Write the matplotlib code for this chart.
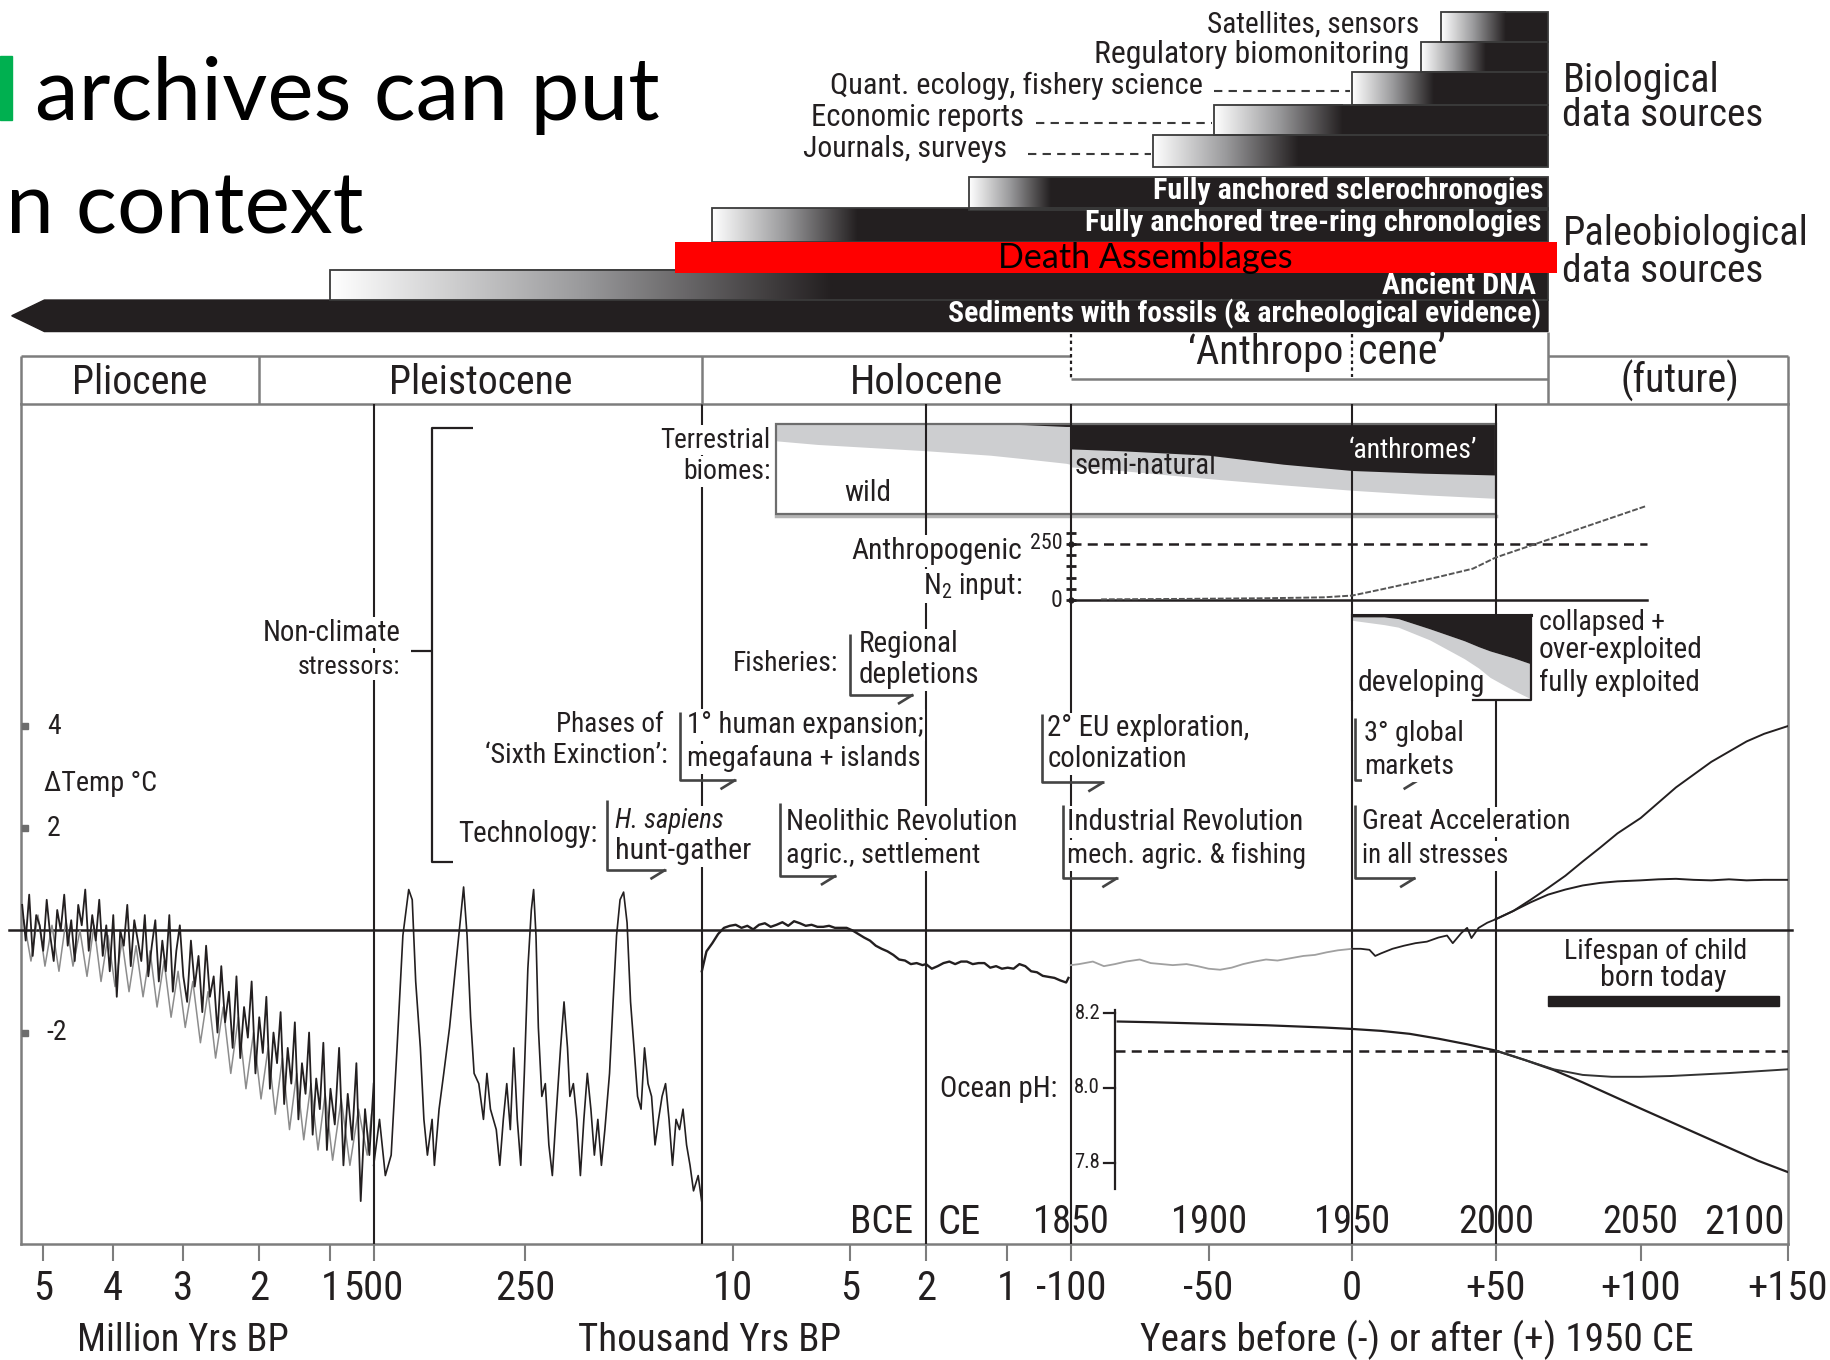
import numpy as np
import matplotlib
matplotlib.use("Agg")
import matplotlib.pyplot as plt
from matplotlib import font_manager, transforms
from matplotlib.patches import Rectangle, Polygon
from matplotlib.colors import LinearSegmentedColormap

# ============================ DATA ============================
# Data-source archives (start of record; all run to the present)
BIO_SOURCES = ["Satellites, sensors", "Regulatory biomonitoring",
               "Quant. ecology, fishery science", "Economic reports", "Journals, surveys"]
BIO_START_CE = [1981, 1974, 1950, 1902, 1880]
PALEO_SOURCES = ["Fully anchored sclerochronogies", "Fully anchored tree-ring chronologies",
                 "Ancient DNA", "Sediments with fossils (& archeological evidence)"]
PALEO_START_BP = [1464, 11130, 1.0e6, 5.45e6]          # years before 1950
DEATH_LABEL = "Death Assemblages"
DEATH_START_BP = 47900
DEATH_END_CE = 2021
SOURCES_END_CE = 2018

EPOCHS = ["Pliocene", "Pleistocene", "Holocene", "(future)"]
PLIO_PLEIST_BP = 2.0e6
HOLOCENE_BP = 11700
EPOCH_LINES_T = [-5.0e5, -11700, -2000, -100, 0, 50]   # years rel. 1950

TICK_T = [-5e6, -4e6, -3e6, -2e6, -1e6, -5e5, -2.5e5, -1e4, -5e3, -2e3, -1e3,
          -100, -50, 0, 50, 100, 150]
TICK_LBL = ['5', '4', '3', '2', '1', '500', '250', '10', '5', '2', '1',
            '-100', '-50', '0', '+50', '+100', '+150']
YEAR_LBL = ['1850', '1900', '1950', '2000', '2050']
YEAR_LBL_CE = [1850, 1900, 1950, 2000, 2050]

# Temperature anomaly (deg C)
PLIO_MA = [-5.30, -5.25, -5.20, -5.15, -5.10, -5.05, -5.00, -4.95, -4.90, -4.85, -4.80, -4.75,
           -4.70, -4.65, -4.60, -4.55, -4.50, -4.45, -4.40, -4.35, -4.30, -4.25, -4.20, -4.15,
           -4.10, -4.05, -4.00, -3.95, -3.90, -3.85, -3.80, -3.75, -3.70, -3.65, -3.60, -3.55,
           -3.50, -3.45, -3.40, -3.35, -3.30, -3.25, -3.20, -3.15, -3.10, -3.05, -3.00, -2.95,
           -2.90, -2.85, -2.80, -2.75, -2.70, -2.65, -2.60, -2.55, -2.50, -2.45, -2.40, -2.35,
           -2.30, -2.25, -2.20, -2.15, -2.10, -2.05, -2.00, -1.95, -1.90, -1.85, -1.80, -1.75,
           -1.70, -1.65, -1.60, -1.55, -1.50, -1.45, -1.40, -1.35, -1.30, -1.25, -1.20, -1.15,
           -1.10, -1.05, -1.00, -0.95, -0.90, -0.85, -0.80, -0.75, -0.70, -0.65, -0.60, -0.55, -0.50]
PLIO_TEMP = [0.5, -0.2, 0.7, -0.5, 0.3, 0.1, -0.4, 0.6, -0.1, -0.6, 0.4, 0.0,
             0.7, -0.3, 0.2, -0.6, 0.5, 0.1, 0.8, -0.4, 0.3, -0.2, 0.6, -0.5,
             0.1, -0.8, 0.3, -1.3, 0.0, -0.3, 0.5, -0.7, 0.2, -0.2, -0.6, 0.3,
             -0.9, -0.3, 0.2, -1.0, -0.2, -0.8, 0.3, -1.2, -0.4, 0.1, -0.9, -1.4,
             -0.2, -1.1, -0.5, -1.6, -0.3, -1.3, -0.9, -2.0, -0.7, -1.8, -1.2, -2.3,
             -0.9, -2.5, -1.5, -2.1, -1.0, -2.8, -1.7, -2.4, -1.3, -3.1, -2.0, -2.6,
             -1.6, -3.4, -2.3, -3.0, -1.8, -3.7, -2.6, -3.2, -2.0, -4.0, -2.9, -3.5,
             -2.2, -4.3, -3.1, -3.8, -2.3, -4.6, -3.2, -4.1, -2.6, -5.3, -3.5, -4.4, -3.0]
PLIO2_MA = [-5.275, -5.175, -5.075, -4.975, -4.875, -4.775, -4.675, -4.575, -4.475, -4.375,
            -4.275, -4.175, -4.075, -3.975, -3.875, -3.775, -3.675, -3.575, -3.475, -3.375,
            -3.275, -3.175, -3.075, -2.975, -2.875, -2.775, -2.675, -2.575, -2.475, -2.375,
            -2.275, -2.175, -2.075, -1.975, -1.875, -1.775, -1.675, -1.575, -1.475, -1.375,
            -1.275, -1.175, -1.075, -0.975, -0.875, -0.775, -0.675, -0.575, -0.525]
PLIO2_TEMP = [0.2, -0.6, 0.3, -0.7, 0.1, -0.8, 0.2, -0.7, 0.0, -0.9,
              0.1, -1.0, -0.1, -1.1, -0.2, -1.2, -0.3, -1.3, -0.4, -1.5,
              -0.6, -1.7, -0.8, -1.9, -1.0, -2.2, -1.2, -2.5, -1.5, -2.8,
              -1.7, -3.1, -2.0, -3.3, -2.3, -3.6, -2.5, -3.9, -2.8, -4.1,
              -3.0, -4.3, -3.2, -4.5, -3.3, -4.6, -3.5, -4.4, -3.6]
GLAC_KA = [500.0, 490.4, 480.8, 471.2, 461.5, 451.9, 442.3, 436.5, 430.8, 423.1, 417.3, 411.5,
           403.8, 400.0, 392.3, 384.6, 375.0, 365.4, 357.7, 351.9, 346.2, 340.4, 334.6, 326.9,
           319.2, 313.5, 307.7, 298.1, 292.3, 286.5, 280.8, 275.0, 269.2, 263.5, 257.7, 251.9,
           246.8, 242.1, 239.0, 235.8, 232.6, 227.9, 223.2, 218.4, 213.7, 209.0, 202.6, 197.9,
           193.2, 190.0, 185.3, 180.6, 175.8, 171.1, 166.4, 161.6, 156.9, 152.2, 147.4, 142.7,
           136.4, 131.6, 126.9, 122.2, 117.4, 112.7, 108.0, 103.3, 98.5, 93.8, 89.1, 84.4,
           79.6, 74.9, 70.2, 65.4, 60.7, 56.0, 51.3, 46.5, 41.8, 37.1, 32.3, 27.6, 22.9, 16.6, 11.9]
GLAC_TEMP = [-4.6, -3.7, -4.8, -4.4, -2.3, -0.1, 0.8, 0.6, -1.0, -2.3, -3.7, -4.4,
             -3.7, -4.6, -3.5, -2.8, -1.9, -0.75, 0.15, 0.85, -0.1, -1.7, -2.8, -3.0,
             -3.7, -2.8, -3.5, -3.9, -4.6, -3.7, -3.0, -3.9, -2.3, -3.7, -4.6, -2.8,
             -0.75, 0.4, 0.8, -0.1, -1.9, -3.25, -3.0, -4.2, -4.8, -3.7, -2.3, -1.4,
             -2.3, -3.25, -3.0, -3.7, -4.8, -3.7, -2.8, -3.5, -4.4, -3.7, -4.6, -3.9,
             -2.8, -1.4, -0.1, 0.6, 0.75, 0.15, -1.4, -2.3, -3.25, -3.5, -2.3, -3.0,
             -3.25, -4.2, -3.7, -3.25, -3.0, -3.7, -4.6, -3.7, -3.9, -3.5, -4.2, -4.6, -5.1, -4.8, -5.3]
HOLO_BP = [11700, 11448, 11133, 10819, 10504, 10189, 9900, 9650, 9400, 9150, 8900, 8650, 8400,
           8150, 7900, 7650, 7400, 7150, 6900, 6650, 6400, 6150, 5900, 5650, 5400, 5150, 4908,
           4677, 4446, 4215, 3985, 3754, 3523, 3292, 3062, 2831, 2600, 2369, 2138, 2000, 1928,
           1855, 1783, 1710, 1638, 1565, 1493, 1420, 1348, 1275, 1203, 1130, 1058, 984, 902,
           820, 738, 656, 574, 493, 411, 329, 247, 165, 133]
HOLO_TEMP = [-0.80, -0.41, -0.25, -0.07, 0.05, 0.09, 0.11, 0.05, 0.09, 0.02, 0.11, 0.14, 0.07,
             0.11, 0.16, 0.09, 0.18, 0.14, 0.09, 0.11, 0.07, 0.07, 0.09, 0.05, 0.05, 0.05, 0.0,
             -0.07, -0.14, -0.20, -0.30, -0.36, -0.41, -0.48, -0.57, -0.59, -0.66, -0.64, -0.68, -0.66, -0.75,
             -0.70, -0.64, -0.61, -0.66, -0.61, -0.61, -0.66, -0.64, -0.64, -0.73, -0.70, -0.75, -0.73, -0.75,
             -0.66, -0.70, -0.80, -0.82, -0.89, -0.91, -0.93, -0.98, -1.02, -0.93]
INSTR1_CE = [1850, 1853, 1858, 1862, 1866, 1870, 1875, 1879, 1883, 1887, 1892, 1896, 1900,
             1904, 1908, 1912, 1916, 1920, 1924, 1928, 1933, 1937, 1941, 1945, 1950]
INSTR1_TEMP = [-0.68, -0.66, -0.61, -0.70, -0.66, -0.61, -0.57, -0.64, -0.66, -0.68, -0.66, -0.70,
               -0.75, -0.77, -0.73, -0.66, -0.61, -0.57, -0.59, -0.55, -0.50, -0.48, -0.43, -0.39, -0.36]
INSTR2_CE = [1950, 1953, 1956, 1958, 1960, 1964, 1968, 1972, 1976, 1980, 1983, 1985, 1988,
             1990, 1991.5, 1994, 1997, 2000]
INSTR2_TEMP = [-0.36, -0.36, -0.38, -0.50, -0.45, -0.36, -0.30, -0.25, -0.22, -0.14, -0.10,
               -0.25, -0.05, 0.05, -0.15, 0.05, 0.15, 0.22]
PROJ_CE = [2000, 2006, 2012, 2018, 2024, 2030, 2036, 2042, 2050, 2056, 2062, 2068, 2074,
           2080, 2086, 2092, 2100]
PROJ_HIGH = [0.22, 0.38, 0.60, 0.83, 1.07, 1.35, 1.62, 1.90, 2.20, 2.50, 2.80, 3.05, 3.30,
             3.50, 3.70, 3.85, 4.00]
PROJ_LOW = [0.22, 0.38, 0.55, 0.70, 0.80, 0.88, 0.93, 0.96, 0.98, 1.00, 1.01, 0.99, 0.98,
            1.00, 0.98, 0.99, 0.99]

# Terrestrial biomes (fraction of ice-free land)
BIOME_T = [-8160, -6400, -2000, -1200, -740, -165, -110, -100, -82, -50, -24, 0, 25, 50]
ANTHROMES = [0.0, 0.0, 0.0, 0.0, 0.01, 0.03, 0.03, 0.28, 0.30, 0.35, 0.45, 0.52, 0.55, 0.57]
SEMI_NATURAL = [0.19, 0.23, 0.30, 0.35, 0.38, 0.41, 0.42, 0.20, 0.22, 0.26, 0.23, 0.22, 0.24, 0.26]

# Anthropogenic N input (Tg N / yr)
N_CE = [1861, 1890, 1920, 1940, 1950, 1960, 1970, 1980, 1992, 2000, 2010, 2020, 2030, 2040, 2052]
N_INPUT = [3, 5, 8, 12, 20, 47, 75, 103, 140, 190, 234, 278, 323, 367, 420]
N_TICKS = [0, 50, 100, 150, 200, 250, 300]

# Fisheries stock status (fraction of stocks)
FISH_CE = [1950, 1961, 1966, 1977, 1989, 1994, 1998, 2006, 2012]
COLLAPSED = [0.02, 0.02, 0.04, 0.16, 0.30, 0.37, 0.42, 0.50, 0.57]
FULLY_EXPL = [0.04, 0.09, 0.10, 0.13, 0.21, 0.25, 0.31, 0.38, 0.41]

# Ocean pH
PH_CE = [1867, 1880, 1900, 1920, 1940, 1950, 1960, 1970, 1980, 1990, 2000]
PH_HIST = [8.178, 8.176, 8.172, 8.168, 8.162, 8.158, 8.153, 8.145, 8.132, 8.117, 8.100]
PH_PROJ_CE = [2000, 2010, 2020, 2030, 2040, 2050, 2060, 2070, 2080, 2090, 2100]
PH_HIGH = [8.100, 8.075, 8.048, 8.015, 7.980, 7.945, 7.910, 7.875, 7.840, 7.805, 7.775]
PH_LOW = [8.100, 8.075, 8.050, 8.035, 8.030, 8.030, 8.032, 8.036, 8.040, 8.045, 8.050]
PH_TICKS = [8.2, 8.0, 7.8]
PH_REF = 8.1
N_REF = 250
LIFESPAN_CE = (2018, 2097)

# ============================ LAYOUT ============================
W, H = 1568.0, 1165.0                  # layout units (reference pixels)
PXS = 1831.0 / W
FL, FR, FT, FB = 18, 1531, 346, 1066   # plot frame
# piecewise time axis (years rel. 1950 -> layout x)
AXIS_T = np.array([-5.617e6, -5e6, -4e6, -3e6, -2e6, -1e6, -5e5, -2.5e5, -1.17e4, -1e4, -5e3,
                   -2e3, -1e3, -100, -50, 0, 50, 100, 150, 164.8])
AXIS_P = np.array([0, 37, 97, 157, 222, 283, 320, 450, 601, 628, 728,
                   793, 862, 917, 1035, 1158, 1281, 1405, 1531, 1568], dtype=float)


def fwd(t):
    return np.interp(t, AXIS_T, AXIS_P)


def inv(p):
    return np.interp(p, AXIS_P, AXIS_T)


INK = '#231f20'
FRAMEC = '#7d7d7d'
GRAYF = '#cdced0'

avail = {f.name for f in font_manager.fontManager.ttflist}


def pick(cands):
    for c in cands:
        if c in avail:
            return c
    return 'DejaVu Sans'


NARROW = pick(['Liberation Sans Narrow', 'Roboto Condensed', 'Open Sans Condensed',
               'Roboto', 'Liberation Sans'])
TITLEF = pick(['Lato', 'Open Sans'])
plt.rcParams['mathtext.fontset'] = 'custom'
plt.rcParams['mathtext.rm'] = NARROW
plt.rcParams['mathtext.it'] = NARROW + ':italic'

fig = plt.figure(figsize=(18.31, 13.60), dpi=100)
RENDERER = fig.canvas.get_renderer()
FRAME_RECT = [FL / W, 1 - FB / H, (FR - FL) / W, (FB - FT) / H]

ax_t = fig.add_axes(FRAME_RECT)
ax_t.set_xscale('function', functions=(fwd, inv))
ax_t.set_xlim(inv(FL), inv(FR))
ax_t.set_ylim(0, 1)
ax_t.set_yticks([])


def data_ax(v1, p1, v2, p2):
    ax = fig.add_axes(FRAME_RECT, sharex=ax_t)
    s = (p2 - p1) / (v2 - v1)
    ax.set_ylim(v1 + (FB - p1) / s, v1 + (FT - p1) / s)
    ax.set_axis_off()
    ax.patch.set_visible(False)
    return ax


ax_bio = data_ax(0, 363, 1, 440)
ax_px = fig.add_axes([0, 0, 1, 1])
ax_px.set_xlim(0, W)
ax_px.set_ylim(H, 0)
ax_px.set_axis_off()
ax_px.patch.set_visible(False)
ax_fish = data_ax(0, 527, 1, 600)
ax_n = data_ax(0, 514, 250, 466)
ax_ph = data_ax(8.2, 868, 7.8, 996)
ax_temp = data_ax(0, 797, 4, 622)

BT = transforms.blended_transform_factory(ax_t.transData, ax_px.transData)


def tx(t):
    d = ax_t.transData.transform((t, 0.5))
    return ax_px.transData.inverted().transform(d)[0]


def fitted(txt, width):
    if width:
        bb = txt.get_window_extent(RENDERER)
        txt.set_fontsize(txt.get_fontsize() * width * PXS / bb.width)
    return txt


def T(x, y, s, w=None, ha='left', va='center', size=20, color=INK, bbox=True,
      ax=None, tr=None, family=None, **kw):
    ax = ax or ax_px
    t = ax.text(x, y, s, ha=ha, va=va, fontsize=size, color=color,
                family=family or NARROW, transform=tr or ax_px.transData, zorder=6, **kw)
    if bbox:
        t.set_bbox(dict(facecolor='white', edgecolor='none', pad=1.2))
    return fitted(t, w)


def L(xs, ys, tr=None, ax=None, **kw):
    ax = ax or ax_px
    kw.setdefault('color', INK)
    kw.setdefault('lw', 1.4)
    kw.setdefault('zorder', 3)
    ax.plot(xs, ys, transform=tr or ax_px.transData, solid_capstyle='butt', **kw)


# ---------------- title ----------------
ax_px.add_patch(Rectangle((0, 48), 10, 55, color='#00b050', zorder=2))
t1 = ax_px.text(30, 103, "archives can put", family=TITLEF, fontsize=60, va='baseline', color='black')
fitted(t1, 535)
t2 = ax_px.text(5, 200, "n context", family=TITLEF, fontsize=60, va='baseline', color='black')
fitted(t2, 306)

# ---------------- data source bars ----------------
CMAP = LinearSegmentedColormap.from_list('fade', ['#ffffff', '#9a9a9c', INK])
GRAD = np.linspace(0, 1, 256)[None, :]
x_end = tx(SOURCES_END_CE - 1950)


def source_bar(x0, y0, y1, glen):
    ax_px.add_patch(Rectangle((x0, y0), x_end - x0, y1 - y0, facecolor=INK, edgecolor='none', zorder=2))
    ax_px.imshow(GRAD, cmap=CMAP, extent=(x0, x0 + glen, y1, y0), aspect='auto',
                 zorder=2.1, interpolation='bilinear')
    ax_px.add_patch(Rectangle((x0, y0), x_end - x0, y1 - y0, facecolor='none',
                              edgecolor='#3a3a3a', lw=1.3, zorder=2.2))


BIO_ROWS = [(10, 36), (36, 62), (62, 90), (90, 116), (116, 143)]
BIO_GLEN = [55, 55, 70, 110, 125]
BIO_LBL_X = [1215, 1207, 1030, 877, 862]
BIO_LBL_W = [182, 270, 319, 182, 175]
BIO_DASH = [None, None, 1040, 887, 880]
for name, ce, (y0, y1), gl, lx, lw_, dx in zip(BIO_SOURCES, BIO_START_CE, BIO_ROWS, BIO_GLEN,
                                             BIO_LBL_X, BIO_LBL_W, BIO_DASH):
    x0 = tx(ce - 1950)
    source_bar(x0, y0, y1, gl)
    yc = (y0 + y1) / 2 + 2
    T(lx, yc - 4, name, w=lw_, ha='right', size=18, bbox=False)
    if dx is not None:
        L([dx, x0 - 2], [yc, yc], lw=1.5, ls=(0, (4, 3)), color='#3a3a3a')

PALEO_ROWS = [(152, 180), (178, 207), (231, 257)]
PALEO_GLEN = [70, 125, 430]
PALEO_LBL = [(1322, 164, 335), (1320, 191, 391), (1315, 245, 132)]
for name, bp, (y0, y1), gl, (lx, ly, lw_) in zip(PALEO_SOURCES[:3], PALEO_START_BP[:3],
                                                   PALEO_ROWS, PALEO_GLEN, PALEO_LBL):
    source_bar(tx(-bp), y0, y1, gl)
    T(lx, ly, name, w=lw_, ha='right', size=18, color='white', bbox=False, weight='bold')

# sediments arrow
xt = tx(-PALEO_START_BP[3])
ax_px.add_patch(Polygon([(xt, 270.5), (xt + 28, 257), (x_end, 257), (x_end, 284), (xt + 28, 284)],
                        closed=True, facecolor=INK, edgecolor=INK, lw=1, zorder=2))
T(1320, 269, PALEO_SOURCES[3], w=508, ha='right', size=18, color='white', bbox=False, weight='bold')

# red Death Assemblages bar
xd0, xd1 = tx(-DEATH_START_BP), tx(DEATH_END_CE - 1950)
ax_px.add_patch(Rectangle((xd0, 207), xd1 - xd0, 27, facecolor='#ff0000', edgecolor='none', zorder=4))
T(981, 221, DEATH_LABEL, w=252, ha='center', size=24, color='black', bbox=False,
  family=TITLEF)

T(1338, 69, "Biological", w=134, size=28, bbox=False)
T(1338, 99, "data sources", w=172, size=28, bbox=False)
T(1338, 200, "Paleobiological", w=210, size=28, bbox=False)
T(1338, 233, "data sources", w=172, size=28, bbox=False)

# ---------------- header ----------------
HL = dict(color=FRAMEC, lw=1.8, zorder=3)
x1850, x1950, xfut = tx(-100), tx(0), x_end
L([FL, x1850], [305, 305], **HL)
L([xfut, FR], [305, 305], **HL)
L([FL, FL], [305, FT], **HL)
L([FR, FR], [305, FT], **HL)
L([tx(-PLIO_PLEIST_BP)] * 2, [305, FT], **HL)
L([tx(-HOLOCENE_BP)] * 2, [305, FT], **HL)
L([xfut, xfut], [284, FT], **HL)
L([x1850, xfut], [325, 325], **HL)
L([x1850, x1850], [286, 325], color=INK, lw=1.6, ls=(0, (1.5, 1.5)))
L([x1950, x1950], [286, 323], color=INK, lw=1.6, ls=(0, (1.5, 1.5)))
T(1150, 302, "\u2018Anthropo", w=133, ha='right', size=28, bbox=False)
T(1163, 302, "cene\u2019", w=75, ha='left', size=28, bbox=False)
ep_x = [(FL + tx(-PLIO_PLEIST_BP)) / 2, (tx(-PLIO_PLEIST_BP) + tx(-HOLOCENE_BP)) / 2,
        tx(-2000), (xfut + FR) / 2 + 10]
ep_y = [328, 328, 328, 326]
ep_w = [116, 157, 131, 102]
for name, x, y, w in zip(EPOCHS, ep_x, ep_y, ep_w):
    T(x, y, name, w=w, ha='center', size=28, bbox=False)

# ---------------- vertical epoch lines ----------------
for t in EPOCH_LINES_T:
    L([t, t], [FT, FB], tr=BT, lw=1.5, zorder=1)

# ---------------- bottom axis ----------------
for s in ax_t.spines.values():
    s.set_color(FRAMEC)
    s.set_linewidth(1.8)
probe = ax_px.text(0, 0, "+150", fontsize=27, family=NARROW)
tick_size = 27 * 69 * PXS / probe.get_window_extent(RENDERER).width
probe.remove()
ax_t.set_xticks(TICK_T, labels=TICK_LBL)
ax_t.minorticks_off()
ax_t.tick_params(axis='x', direction='out', length=12, width=1.5, color=FRAMEC,
                 labelcolor=INK, labelsize=tick_size, pad=6)
for lab in ax_t.get_xticklabels():
    lab.set_family(NARROW)
T(157, 1148, "Million Yrs BP", w=181, ha='center', size=28, bbox=False)
T(608, 1148, "Thousand Yrs BP", w=225, ha='center', size=28, bbox=False)
T(1213, 1148, "Years before (-) or after (+) 1950 CE", w=473, ha='center', size=28, bbox=False)
T(782, 1047, "BCE", w=54, ha='right', size=27, bbox=False)
T(803, 1047, "CE", w=37, ha='left', size=27, bbox=False)
for lbl, ce in zip(YEAR_LBL, YEAR_LBL_CE):
    T(ce - 1950, 1047, lbl, w=65, ha='center', size=27, bbox=False, tr=BT)
T(1528, 1047, "2100", w=69, ha='right', size=27, bbox=False)

# ---------------- non-climate stressors ----------------
L([405, 370, 370, 388], [367, 367, 738, 738], lw=1.6)
L([352, 370], [558, 558], lw=1.6)
T(343, 542, "Non-climate", w=118, ha='right', size=20)
T(343, 571, "stressors:", w=88, ha='right', size=20)


def bracket(x, yt, yb, xe):
    L([x, x, xe], [yt, yb, yb], lw=1.9, color='#444444', zorder=4)
    L([xe, xe - 13], [yb, yb + 8], lw=1.9, color='#444444', zorder=4)


# terrestrial biomes
T(660, 377, "Terrestrial", w=94, ha='right', size=20)
T(660, 404, "biomes:", w=75, ha='right', size=20)
bt = np.array(BIOME_T, float)
an = np.array(ANTHROMES)
sn = an + np.array(SEMI_NATURAL)
ax_bio.fill_between(bt, 0, sn, color=GRAYF, lw=0, zorder=1)
ax_bio.fill_between(bt, 0, an, color=INK, lw=0, zorder=2)
ax_bio.add_patch(Rectangle((bt[0], 0), bt[-1] - bt[0], 1, facecolor='none', edgecolor='#6d6d6d',
                           lw=1.6, zorder=3))
ax_bio.plot([bt[0], bt[-1]], [1.03, 1.03], color='#b5b5b5', lw=2.5, zorder=2)
T(743, 422, "wild", w=40, ha='center', size=20, bbox=False)
T(920, 399, "semi-natural", w=121, size=20, bbox=False)
T(1155, 386, "\u2018anthromes\u2019", w=110, size=20, color='white', bbox=False)

# N input
T(875, 472, "Anthropogenic", w=146, ha='right', size=20)
T(875, 502, "N$_2$ input:", w=85, ha='right', size=20)
nce = np.array(N_CE, float) - 1950
ax_n.plot([-100, -100], [0, 307], color=INK, lw=1.5, zorder=3)
ax_n.plot([-100] * len(N_TICKS), N_TICKS, ls='none', marker='_', ms=7, mew=2, color=INK)
ax_n.plot([-100, -100], [0, 250], ls='none', marker='o', ms=3.5, color=INK)
ax_n.plot([-100, nce[-1]], [N_REF, N_REF], color=INK, lw=1.8, ls=(0, (4, 2.5)))
ax_n.plot([-100, nce[-1]], [0, 0], color=INK, lw=1.8)
ax_n.plot(nce, N_INPUT, color='#555555', lw=1.4, ls=(0, (3, 1)))
T(910, 466, "250", w=28, ha='right', size=15, bbox=False)
T(910, 514, "0", w=10, ha='right', size=15, bbox=False)

# fisheries
T(718, 568, "Fisheries:", w=90, ha='right', size=20)
bracket(728, 543, 595, 782)
T(735, 552, "Regional", w=85, size=20)
T(735, 578, "depletions", w=103, size=20)
fc = np.array(FISH_CE, float) - 1950
col = np.array(COLLAPSED)
ful = col + np.array(FULLY_EXPL)
ax_fish.fill_between(fc, 0, 1, color='white', lw=0, zorder=1)
ax_fish.fill_between(fc, col, ful, color=GRAYF, lw=0, zorder=2)
ax_fish.fill_between(fc, 0, col, color=INK, lw=0, zorder=3)
ax_fish.plot([fc[0], fc[-1]], [0, 0], color=INK, lw=2.2, zorder=4)
ax_fish.plot([fc[-1], fc[-1], fc[-1] - 20], [0, 1, 1], color=INK, lw=1.6, zorder=4)
ax_fish.plot([fc[0], fc[0]], [0, 1], color=INK, lw=1.5, zorder=4)
T(1163, 585, "developing", w=109, size=20, bbox=False, ax=ax_fish)
T(1318, 533, "collapsed +", w=108, size=19, bbox=False)
T(1318, 557, "over-exploited", w=140, size=19, bbox=False)
T(1318, 585, "fully exploited", w=137, size=20, bbox=False)

# phases of sixth extinction
T(568, 621, "Phases of", w=92, ha='right', size=20)
T(572, 647, "\u2018Sixth Exinction\u2019:", w=156, ha='right', size=20)
bracket(582, 610, 668, 630)
T(588, 621, "1\u00b0 human expansion;", w=202, size=20)
T(588, 650, "megafauna + islands", w=200, size=20)
bracket(892, 612, 670, 945)
T(897, 624, "2\u00b0 EU exploration,", w=173, size=20)
T(897, 650, "colonization", w=119, size=20)
bracket(1160, 615, 668, 1215)
T(1168, 628, "3\u00b0 global", w=85, size=20)
T(1168, 657, "markets", w=77, size=20)

# technology
T(512, 714, "Technology:", w=119, ha='right', size=20)
bracket(520, 685, 745, 570)
T(527, 703, "H. sapiens", w=93, size=20, style='italic')
T(527, 729, "hunt-gather", w=116, size=20)
bracket(668, 688, 750, 716)
T(673, 704, "Neolithic Revolution", w=197, size=20)
T(673, 733, "agric., settlement", w=166, size=20)
bracket(910, 690, 752, 957)
T(914, 704, "Industrial Revolution", w=201, size=20)
T(914, 733, "mech. agric. & fishing", w=205, size=20)
bracket(1160, 690, 752, 1212)
T(1166, 704, "Great Acceleration", w=178, size=20)
T(1166, 733, "in all stresses", w=126, size=20)

# ---------------- temperature ----------------
BTEMP = transforms.blended_transform_factory(ax_px.transData, ax_temp.transData)
ax_temp.plot([8, 1535], [0, 0], transform=BTEMP, color=INK, lw=1.8, clip_on=False, zorder=2)
for v in [4, 2, -2]:
    ax_temp.plot([21], [v], transform=BTEMP, marker='s', ms=4, color='#6d6d6d', clip_on=False)
    T(40, 0, str(v), w=None, size=20, bbox=False, ax=ax_temp, tr=BTEMP).set_y(v)
T(38, 671, "\u0394Temp \u00b0C", w=97, size=20, bbox=False)

ax_temp.plot(np.array(PLIO2_MA) * 1e6, PLIO2_TEMP, color='#8c8c8c', lw=1.1, zorder=2)
ax_temp.plot(np.array(PLIO_MA) * 1e6, PLIO_TEMP, color=INK, lw=1.3, zorder=3)
ax_temp.plot(-np.array(GLAC_KA) * 1e3, GLAC_TEMP, color=INK, lw=1.2, zorder=3)
ax_temp.plot(-np.array(HOLO_BP, float), HOLO_TEMP, color=INK, lw=1.7, zorder=3)
ax_temp.plot(np.array(INSTR1_CE) - 1950, INSTR1_TEMP, color='#a0a0a0', lw=1.3, zorder=3)
ax_temp.plot(np.array(INSTR2_CE) - 1950, INSTR2_TEMP, color=INK, lw=1.3, zorder=3)
ax_temp.plot(np.array(PROJ_CE) - 1950, PROJ_HIGH, color=INK, lw=1.4, zorder=3)
ax_temp.plot(np.array(PROJ_CE) - 1950, PROJ_LOW, color=INK, lw=1.4, zorder=3)

# lifespan of a child born today
ls0, ls1 = LIFESPAN_CE[0] - 1950, LIFESPAN_CE[1] - 1950
ax_px.add_patch(Rectangle((ls0, 853), ls1 - ls0, 9, transform=BT, color=INK, zorder=5))
T(1418, 815, "Lifespan of child", w=157, ha='center', size=20, bbox=False)
T(1424, 838, "born today", w=108, ha='center', size=20, bbox=False)

# ---------------- ocean pH ----------------
T(905, 933, "Ocean pH:", w=100, ha='right', size=20, bbox=False)
BPH = transforms.blended_transform_factory(ax_px.transData, ax_ph.transData)
ph_axis_t = PH_CE[0] - 1950 - 1
ax_ph.plot([ph_axis_t, ph_axis_t], [8.21, 7.73], color=INK, lw=1.6)
xa = tx(ph_axis_t)
for v in PH_TICKS:
    ax_ph.plot([xa - 9, xa], [v, v], transform=BPH, color=INK, lw=1.6)
    T(942, 0, "%.1f" % v, w=22, ha='right', size=13, bbox=False, ax=ax_ph, tr=BPH).set_y(v)
ax_ph.plot([ph_axis_t, 150], [PH_REF, PH_REF], color=INK, lw=1.8, ls=(0, (4, 2.5)))
ax_ph.plot(np.array(PH_CE) - 1950, PH_HIST, color=INK, lw=1.6)
ax_ph.plot(np.array(PH_PROJ_CE) - 1950, PH_HIGH, color=INK, lw=1.6)
ax_ph.plot(np.array(PH_PROJ_CE) - 1950, PH_LOW, color='#333333', lw=1.4)

ax_t.set_xlim(inv(FL), inv(FR))
fig.savefig("out.png", dpi=100)
